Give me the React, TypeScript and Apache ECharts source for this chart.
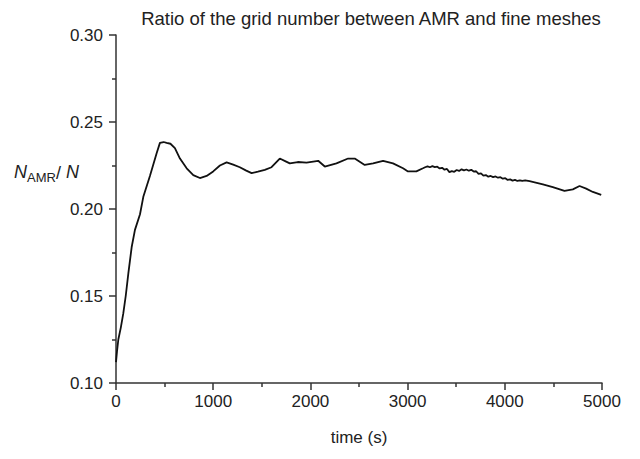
import React, { useEffect, useRef } from "react";
import * as echarts from "echarts";

const titleText = "Ratio of the grid number between AMR and fine meshes";
const xName = "time (s)";
const xTicks = [0, 1000, 2000, 3000, 4000, 5000];
const yTicks = [0.1, 0.15, 0.2, 0.25, 0.3];

const time = [
  0, 10, 24, 50, 75, 100, 127, 161, 195, 247, 281, 349, 418, 452, 490, 521, 560, 606, 658, 727,
  795, 863, 932, 1000, 1069, 1138, 1206, 1274, 1335, 1395, 1460, 1531, 1600, 1685, 1740, 1788,
  1870, 1960, 2080, 2148, 2268, 2388, 2456, 2559, 2645, 2748, 2850, 2953, 3004, 3090, 3158,
  3180, 3205, 3230, 3255, 3280, 3305, 3330, 3355, 3380, 3405, 3430, 3455, 3480, 3505, 3530,
  3555, 3580, 3605, 3630, 3655, 3680, 3705, 3730, 3755, 3780, 3805, 3830, 3855, 3880, 3905,
  3930, 3955, 3980, 4005, 4030, 4055, 4080, 4105, 4130, 4155, 4180, 4210, 4255, 4392, 4494,
  4614, 4700, 4769, 4837, 4906, 4992,
];

const ratio = [
  0.112, 0.118, 0.125, 0.132, 0.14, 0.15, 0.163, 0.178, 0.188, 0.197, 0.207, 0.219, 0.232,
  0.238, 0.2385, 0.238, 0.2375, 0.235, 0.229, 0.2234, 0.2195, 0.2178, 0.219, 0.2216, 0.225,
  0.2268, 0.2255, 0.224, 0.2222, 0.2206, 0.2215, 0.2225, 0.224, 0.229, 0.2275, 0.2262, 0.227,
  0.2266, 0.2277, 0.2244, 0.2262, 0.229, 0.229, 0.2253, 0.2262, 0.2277, 0.2262, 0.2234, 0.2216,
  0.2216, 0.2234,
  0.2240, 0.2245, 0.2240, 0.2246, 0.2241, 0.2243, 0.2233, 0.2237, 0.2226, 0.2230, 0.2212, 0.2218,
  0.2214, 0.2224, 0.2219, 0.2228, 0.2222, 0.2227, 0.2220, 0.2225, 0.2215, 0.2217, 0.2202, 0.2205,
  0.2192, 0.2195, 0.2186, 0.2190, 0.2183, 0.2187, 0.2180, 0.2183, 0.2174, 0.2177, 0.2167, 0.2170,
  0.2163, 0.2167, 0.2161, 0.2165, 0.2161, 0.2164, 0.2160, 0.2141, 0.2126, 0.2104, 0.2113, 0.2132,
  0.2117, 0.2098, 0.2081,
];

export default function App() {
  const ref = useRef<HTMLDivElement>(null);
  useEffect(() => {
    if (!ref.current) return;
    const chart = echarts.init(ref.current, undefined, { renderer: "svg" });
    const data = time.map((t, i) => [t, ratio[i]]);
    const font = "Liberation Sans, Arial, sans-serif";
    chart.setOption({
      animation: false,
      backgroundColor: "#fff",
      title: {
        text: titleText,
        left: 358,
        textAlign: "center",
        top: -4,
        textStyle: { fontSize: 18.5, fontWeight: "normal", color: "#222", fontFamily: font },
      },
      grid: { left: 108, right: 30, top: 27, bottom: 59, containLabel: false },
      xAxis: {
        type: "value",
        min: xTicks[0],
        max: xTicks[xTicks.length - 1],
        interval: 1000,
        name: xName,
        nameLocation: "middle",
        nameGap: 46,
        nameTextStyle: { fontSize: 17, color: "#222", fontFamily: font },
        axisLine: { show: true, lineStyle: { color: "#333", width: 1.5 } },
        axisTick: { show: true, length: 7, inside: false, lineStyle: { color: "#333", width: 1.5 } },
        minorTick: { show: true, splitNumber: 2, length: 4, lineStyle: { color: "#333", width: 1.5 } },
        axisLabel: { fontSize: 17, color: "#222", margin: 10, fontFamily: font, formatter: (v: number) => String(v) },
        splitLine: { show: false },
      },
      yAxis: {
        type: "value",
        min: yTicks[0],
        max: yTicks[yTicks.length - 1],
        interval: 0.05,
        axisLine: { show: true, lineStyle: { color: "#333", width: 1.5 } },
        axisTick: { show: true, length: 7, inside: false, lineStyle: { color: "#333", width: 1.5 } },
        minorTick: { show: true, splitNumber: 2, length: 4, lineStyle: { color: "#333", width: 1.5 } },
        axisLabel: {
          fontSize: 17,
          color: "#222",
          margin: 13,
          fontFamily: font,
          formatter: (v: number) => v.toFixed(2),
        },
        splitLine: { show: false },
      },
      graphic: [
        {
          type: "text",
          left: 6,
          top: 154,
          style: {
            text: "{n|N}{s|AMR}{d|/ }{n|N}",
            rich: {
              n: { fontSize: 18, fontStyle: "italic", fill: "#222", fontFamily: font, verticalAlign: "top", lineHeight: 20 },
              s: { fontSize: 13, fill: "#222", fontFamily: font, padding: [9, 0, 0, 0], lineHeight: 20 },
              d: { fontSize: 18, fill: "#222", fontFamily: font, lineHeight: 20 },
            },
          },
        },
      ],
      series: [
        {
          type: "line",
          data,
          showSymbol: false,
          symbol: "none",
          lineStyle: { color: "#111", width: 1.8 },
        },
      ],
    });
    return () => chart.dispose();
  }, []);
  return <div ref={ref} style={{ width: 624, height: 443 }} />;
}
